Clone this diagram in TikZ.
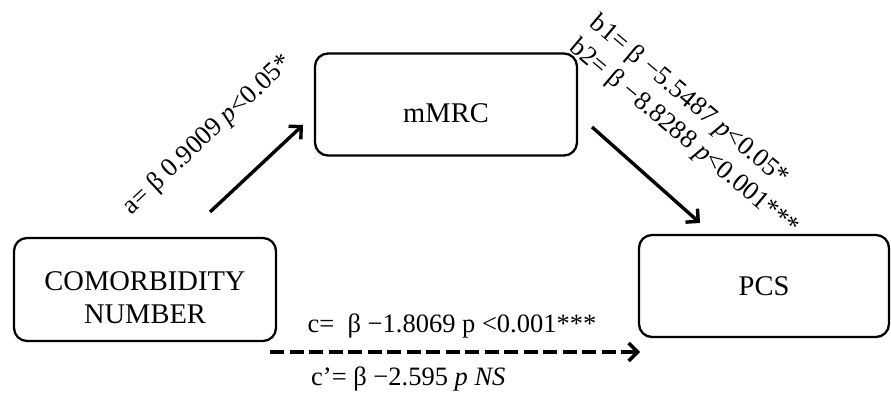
\documentclass[tikz,border=0pt]{standalone}
\usepackage{fontspec}
\setmainfont{Liberation Serif}
\usetikzlibrary{arrows.meta}
\begin{document}
\begin{tikzpicture}[x=1pt,y=-1pt,
  box/.style={draw,line width=2.3pt,rounded corners=13pt,inner sep=0pt},
  boxtext/.style={align=center,font=\fontsize{28.5}{33}\selectfont,inner sep=0pt},
  lab/.style={font=\fontsize{26.5}{30}\selectfont,inner sep=0pt},
  arr/.style={line width=3.4pt,-{Straight Barb[length=9pt,width=18pt]}},
  darr/.style={arr,dash pattern=on 14pt off 5.5pt}]
\useasboundingbox (0,0) rectangle (891,396);
\node[box,minimum width=262pt,minimum height=102pt] (mmrc) at (446,104.5) {};
\node[boxtext] at ([yshift=-9pt]mmrc.center) {mMRC};
\node[box,minimum width=262pt,minimum height=103pt] (com) at (145,289.5) {};
\node[boxtext] at ([yshift=-8pt]com.center) {COMORBIDITY\\NUMBER};
\node[box,minimum width=250pt,minimum height=102pt] (pcs) at (764,286) {};
\node[boxtext] at (pcs.center) {PCS};
\coordinate (a1) at (210,212);
\coordinate (a2) at (303,125);
\coordinate (b1) at (592,127);
\coordinate (b2) at (700,223);
\coordinate (c1) at (270,352);
\coordinate (c2) at (640,352);
\draw[arr] (a1) -- (a2);
\draw[arr] (b1) -- (b2);
\draw[darr] (c1) -- (c2);
\node[lab,rotate=43] at (208,135) {a= β 0.9009 \textit{p}<0.05*};
\node[lab,rotate=-40] at (689,101) {b1= β −5.5487 \textit{p}<0.05*};
\node[lab,rotate=-40] at (684,138) {b2= β −8.8288 \textit{p}<0.001***};
\node[lab] at (452,326) {c=\ \ β −1.8069 p <0.001***};
\node[lab,anchor=west] at (311,379) {c’= β −2.595 \textit{p} \textit{NS}};
\end{tikzpicture}
\end{document}
